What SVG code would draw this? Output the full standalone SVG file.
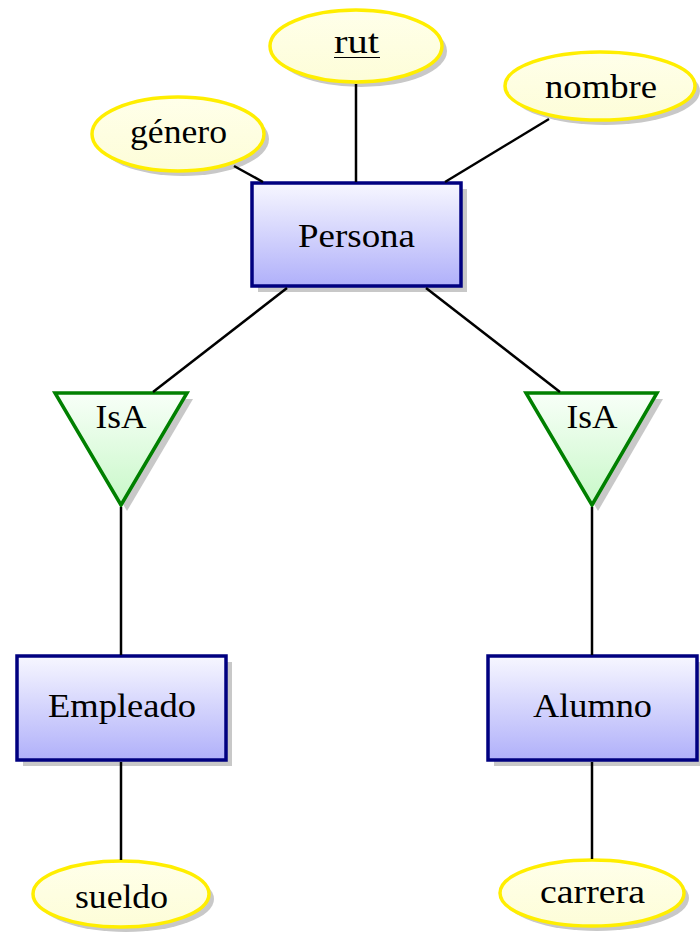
<svg xmlns="http://www.w3.org/2000/svg" width="700" height="937" viewBox="0 0 700 937">
<defs>
<linearGradient id="gRect" x1="0" y1="0" x2="0" y2="1"><stop offset="0" stop-color="#f7f7ff"/><stop offset="1" stop-color="#b0b0fa"/></linearGradient>
<linearGradient id="gEll" x1="0" y1="0" x2="0" y2="1"><stop offset="0" stop-color="#ffffea"/><stop offset="1" stop-color="#fdfdd8"/></linearGradient>
<linearGradient id="gTri" x1="0" y1="0" x2="0" y2="1"><stop offset="0" stop-color="#f8fff8"/><stop offset="1" stop-color="#c8f8c8"/></linearGradient>
</defs>
<style>
.sh{fill:#c8c8c8}
.ent{fill:url(#gRect);stroke:#000080;stroke-width:3.5}
.att{fill:url(#gEll);stroke:#ffee00;stroke-width:3.5}
.isa{fill:url(#gTri);stroke:#008000;stroke-width:3.5;stroke-linejoin:miter}
.ln{stroke:#000;stroke-width:2.5;fill:none}
text{font-family:"Liberation Serif","DejaVu Serif",serif;font-size:33px;fill:#000;text-anchor:middle}
</style>
<g id="persona">
<rect class="sh" x="258" y="189" width="209" height="103"/>
<rect class="ent" x="252" y="183" width="209" height="103"/>
<text x="356.5" y="247" textLength="117" lengthAdjust="spacingAndGlyphs">Persona</text>
</g>
<g id="rut">
<ellipse class="sh" cx="361" cy="51" rx="86" ry="36"/>
<ellipse class="att" cx="356" cy="46" rx="86" ry="36"/>
<text x="356.5" y="53" textLength="45" lengthAdjust="spacingAndGlyphs">rut</text>
<line x1="334" y1="57.5" x2="380" y2="57.5" stroke="#000" stroke-width="1.2"/>
</g>
<g id="nombre">
<ellipse class="sh" cx="605" cy="91" rx="95" ry="34"/>
<ellipse class="att" cx="600" cy="86" rx="95" ry="34"/>
<text x="601" y="98" textLength="112" lengthAdjust="spacingAndGlyphs">nombre</text>
</g>
<g id="genero">
<ellipse class="sh" cx="183" cy="139" rx="86" ry="37"/>
<ellipse class="att" cx="178" cy="134" rx="86" ry="37"/>
<text x="178.5" y="143" textLength="97" lengthAdjust="spacingAndGlyphs">género</text>
</g>
<g id="isa-left">
<polygon class="sh" points="61,399 193,399 127,511"/>
<polygon class="isa" points="55,393 187,393 121,505"/>
<text x="121" y="428" textLength="51" lengthAdjust="spacingAndGlyphs">IsA</text>
</g>
<g id="isa-right">
<polygon class="sh" points="532,399 663,399 598,511"/>
<polygon class="isa" points="526,393 657,393 592,505"/>
<text x="592" y="428" textLength="51" lengthAdjust="spacingAndGlyphs">IsA</text>
</g>
<g id="empleado">
<rect class="sh" x="23" y="662" width="209" height="104"/>
<rect class="ent" x="17" y="656" width="209" height="104"/>
<text x="122" y="717" textLength="148" lengthAdjust="spacingAndGlyphs">Empleado</text>
</g>
<g id="alumno">
<rect class="sh" x="494" y="662" width="209" height="104"/>
<rect class="ent" x="488" y="656" width="209" height="104"/>
<text x="592.5" y="717" textLength="119" lengthAdjust="spacingAndGlyphs">Alumno</text>
</g>
<g id="sueldo">
<ellipse class="sh" cx="126" cy="899" rx="88" ry="33"/>
<ellipse class="att" cx="121" cy="894" rx="88" ry="33"/>
<text x="121.5" y="908" textLength="93" lengthAdjust="spacingAndGlyphs">sueldo</text>
</g>
<g id="carrera">
<ellipse class="sh" cx="597" cy="898" rx="92" ry="33"/>
<ellipse class="att" cx="592" cy="893" rx="92" ry="33"/>
<text x="592.5" y="903" textLength="105" lengthAdjust="spacingAndGlyphs">carrera</text>
</g>
<g id="connectors">
<line class="ln" x1="234" y1="166" x2="263" y2="182"/>
<line class="ln" x1="356" y1="84" x2="356" y2="182"/>
<line class="ln" x1="549" y1="119" x2="445" y2="182"/>
<line class="ln" x1="287" y1="288" x2="153" y2="392"/>
<line class="ln" x1="426" y1="288" x2="560" y2="392"/>
<line class="ln" x1="121" y1="507" x2="121" y2="655"/>
<line class="ln" x1="592" y1="507" x2="592" y2="655"/>
<line class="ln" x1="121" y1="762" x2="121" y2="860"/>
<line class="ln" x1="592" y1="762" x2="592" y2="859"/>
</g>
</svg>
